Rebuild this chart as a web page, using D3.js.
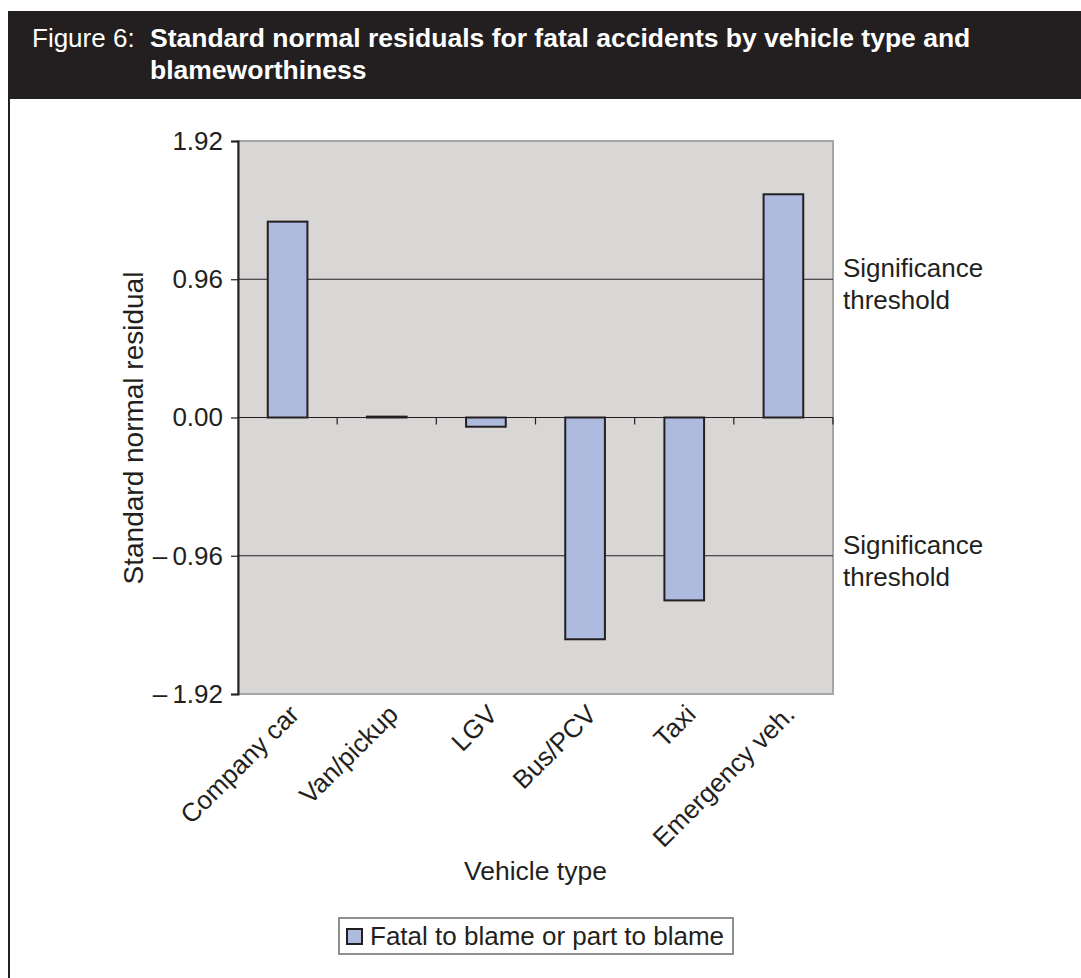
<!DOCTYPE html>
<html>
<head>
<meta charset="utf-8">
<script src="https://cdn.jsdelivr.net/npm/d3@7"></script>
<style>
  body { margin: 0; background: #fff; }
  svg { display: block; font-family: "Liberation Sans", Arial, sans-serif; }
</style>
</head>
<body>
<svg></svg>
<script>
var w = 1081,
    h = 978;

// chart values
var categories = ["Company car", "Van/pickup", "LGV", "Bus/PCV", "Taxi", "Emergency veh."];
var residuals = [1.36, 0.006, -0.064, -1.54, -1.27, 1.55];
var yTicks = [1.92, 0.96, 0, -0.96, -1.92];
var yTickLabels = ["1.92", "0.96", "0.00", "\u2013\u20090.96", "\u2013\u20091.92"];
var thresholds = [0.96, -0.96];
var thresholdText = ["Significance", "threshold"];
var seriesName = "Fatal to blame or part to blame";

var ink = "#231f20";
var plot = {left: 238, right: 833, top: 141, bottom: 694};

var svg = d3.select("svg")
  .attr("width", w)
  .attr("height", h);

// title bar
svg.append("rect")
  .attr("x", 8).attr("y", 11)
  .attr("width", w - 8).attr("height", 88)
  .attr("fill", ink);

svg.append("line")
  .attr("x1", 9).attr("x2", 9)
  .attr("y1", 11).attr("y2", h)
  .attr("stroke", ink).attr("stroke-width", 2);

svg.append("text")
  .attr("x", 32).attr("y", 47)
  .attr("fill", "#fff")
  .style("font-size", "26px")
  .text("Figure 6:");

svg.append("text")
  .attr("x", 150).attr("y", 47)
  .attr("fill", "#fff")
  .style("font-size", "26.5px")
  .style("font-weight", "bold")
  .text("Standard normal residuals for fatal accidents by vehicle type and");

svg.append("text")
  .attr("x", 150).attr("y", 79)
  .attr("fill", "#fff")
  .style("font-size", "26.5px")
  .style("font-weight", "bold")
  .text("blameworthiness");

var x = d3.scaleBand()
  .domain(categories)
  .range([plot.left, plot.right]);

var y = d3.scaleLinear()
  .domain([-1.92, 1.92])
  .range([plot.bottom, plot.top]);

var g = svg.append("g");

// plot background
g.append("rect")
  .attr("x", plot.left).attr("y", plot.top)
  .attr("width", plot.right - plot.left)
  .attr("height", plot.bottom - plot.top)
  .attr("fill", "#d8d7d6")
  .attr("stroke", "#a7a6a6")
  .attr("stroke-width", 2);

// threshold gridlines
g.selectAll(".grid")
  .data(thresholds)
  .enter()
  .append("line")
  .attr("class", "grid")
  .attr("x1", plot.left).attr("x2", plot.right)
  .attr("y1", function(d){ return y(d); })
  .attr("y2", function(d){ return y(d); })
  .attr("stroke", ink)
  .attr("stroke-width", 1.2);

// bars
var bw = x.bandwidth() * 0.4;
g.selectAll(".bar")
  .data(residuals)
  .enter()
  .append("rect")
  .attr("class", "bar")
  .attr("x", function(d, i){ return x(categories[i]) + (x.bandwidth() - bw) / 2; })
  .attr("y", function(d){ return y(Math.max(0, d)); })
  .attr("width", bw)
  .attr("height", function(d){ return Math.abs(y(d) - y(0)); })
  .attr("fill", "#aebbde")
  .attr("stroke", ink)
  .attr("stroke-width", 2);

// zero line with category ticks
g.append("line")
  .attr("x1", plot.left).attr("x2", plot.right)
  .attr("y1", y(0)).attr("y2", y(0))
  .attr("stroke", ink)
  .attr("stroke-width", 1.2);

var bounds = categories.map(function(c){ return x(c) + x.bandwidth(); });
g.selectAll(".xtick")
  .data(bounds)
  .enter()
  .append("line")
  .attr("class", "xtick")
  .attr("x1", function(d){ return d; })
  .attr("x2", function(d){ return d; })
  .attr("y1", y(0)).attr("y2", y(0) + 7)
  .attr("stroke", ink)
  .attr("stroke-width", 1.2);

// y axis
var yAxis = d3.axisLeft(y)
  .tickValues(yTicks)
  .tickSize(7)
  .tickPadding(8)
  .tickFormat(function(d, i){ return yTickLabels[i]; });

var ya = svg.append("g")
  .attr("transform", "translate(" + plot.left + ",0)")
  .call(yAxis);
ya.select(".domain").attr("stroke", ink).attr("stroke-width", 2);
ya.selectAll(".tick line").attr("stroke", ink).attr("stroke-width", 1.2);
ya.selectAll(".tick text")
  .attr("fill", ink)
  .style("font-size", "26px")
  .style("font-family", "Liberation Sans, Arial, sans-serif");

// x labels
svg.selectAll(".xlabel")
  .data(categories)
  .enter()
  .append("text")
  .attr("class", "xlabel")
  .attr("text-anchor", "end")
  .attr("fill", ink)
  .style("font-size", "26px")
  .attr("transform", function(d){
    return "translate(" + (x(d) + x.bandwidth() / 2 + 13) + "," + (plot.bottom + 22) + ") rotate(-45)";
  })
  .text(function(d){ return d; });

// axis titles
svg.append("text")
  .attr("text-anchor", "middle")
  .attr("fill", ink)
  .style("font-size", "28px")
  .attr("transform", "translate(143,428) rotate(-90)")
  .text("Standard normal residual");

svg.append("text")
  .attr("x", (plot.left + plot.right) / 2)
  .attr("y", 880)
  .attr("text-anchor", "middle")
  .attr("fill", ink)
  .style("font-size", "26.5px")
  .text("Vehicle type");

// threshold labels
thresholds.forEach(function(t){
  thresholdText.forEach(function(s, i){
    svg.append("text")
      .attr("x", 843)
      .attr("y", y(t) - 2 + i * 32)
      .attr("fill", ink)
      .style("font-size", "26px")
      .text(s);
  });
});

// legend
var leg = svg.append("g");
leg.append("rect")
  .attr("x", 339).attr("y", 918)
  .attr("width", 394).attr("height", 36)
  .attr("fill", "#fff")
  .attr("stroke", "#6d6b6b")
  .attr("stroke-width", 1.5);
leg.append("rect")
  .attr("x", 347).attr("y", 929)
  .attr("width", 15).attr("height", 15)
  .attr("fill", "#aebbde")
  .attr("stroke", ink)
  .attr("stroke-width", 2);
leg.append("text")
  .attr("x", 370).attr("y", 945)
  .attr("fill", ink)
  .style("font-size", "26px")
  .text(seriesName);
</script>
</body>
</html>
